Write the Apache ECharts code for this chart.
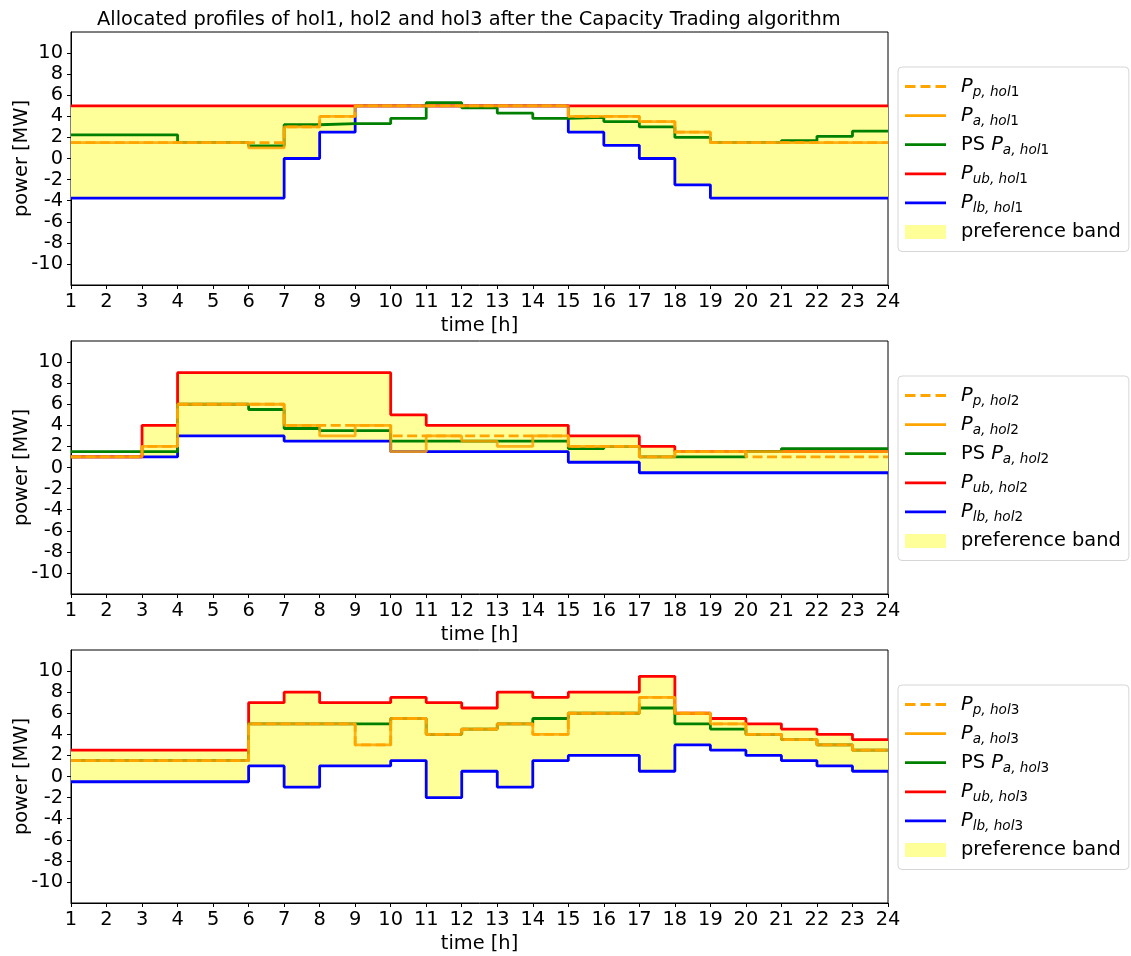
<!DOCTYPE html>
<html>
<head>
<meta charset="utf-8">
<script src="https://cdn.jsdelivr.net/npm/echarts@6/dist/echarts.min.js"></script>
<style>
html,body{margin:0;padding:0;background:#fff;}
#chart{width:1131px;height:956px;}
</style>
</head>
<body>
<div id="chart"></div>
<script>
// ---------- data (value for each hour interval h..h+1, h = 1..23) ----------
const hours = ['1','2','3','4','5','6','7','8','9','10','11','12','13','14','15','16','17','18','19','20','21','22','23','24'];
const yTicks = [-10,-8,-6,-4,-2,0,2,4,6,8,10];

// hol1
const pp1 = [1.5,1.5,1.5,1.5,1.5,1.5,3,4,5,5,5,5,5,5,4,4,3.5,2.5,1.5,1.5,1.5,1.5,1.5];
const pa1 = [1.5,1.5,1.5,1.5,1.5,1.0,3,4,5,5,5,5,5,5,4,4,3.5,2.5,1.5,1.5,1.5,1.5,1.5];
const ps1 = [2.25,2.25,2.25,1.5,1.5,1.2,3.2,3.3,3.3,3.8,5.3,4.8,4.3,3.8,3.9,3.5,3.0,2.0,1.5,1.5,1.7,2.1,2.6];
const ub1 = [5,5,5,5,5,5,5,5,5,5,5,5,5,5,5,5,5,5,5,5,5,5,5];
const lb1 = [-3.75,-3.75,-3.75,-3.75,-3.75,-3.75,0,2.5,5,5,5,5,5,5,2.5,1.25,0,-2.5,-3.75,-3.75,-3.75,-3.75,-3.75];

// hol2
const pp2 = [1,1,2,6,6,6,4,4,4,3,3,3,3,3,2,2,1,1.5,1.5,1,1,1,1];
const pa2 = [1,1,2,6,6,6,4,3,4,1.5,3,2.5,2,3,2,2,1,1.5,1.5,1.5,1.5,1.5,1.5];
const ps2 = [1.5,1.5,1.5,6,6,5.5,3.7,3.5,3.5,2.5,2.5,2.5,2.5,2.5,1.8,2,1,1,1,1.5,1.8,1.8,1.8];
const ub2 = [1,1,4,9,9,9,9,9,9,5,4,4,4,4,3,3,2,1.5,1.5,1.5,1.5,1.5,1.5];
const lb2 = [1,1,1,3,3,3,2.5,2.5,2.5,1.5,1.5,1.5,1.5,1.5,0.5,0.5,-0.5,-0.5,-0.5,-0.5,-0.5,-0.5,-0.5];

// hol3
const pp3 = [1.5,1.5,1.5,1.5,1.5,5,5,5,3,5.5,4,4.5,5,4,6,6,7.5,6,5,4,3.5,3,2.5];
const pa3 = [1.5,1.5,1.5,1.5,1.5,5,5,5,3,5.5,4,4.5,5,4,6,6,7.5,6,5,4,3.5,3,2.5];
const ps3 = [1.5,1.5,1.5,1.5,1.5,5,5,5,5,5.5,4,4.5,5,5.5,6,6,6.5,5,4.5,4,3.5,3,2.5];
const ub3 = [2.5,2.5,2.5,2.5,2.5,7,8,7,7,7.5,7,6.5,8,7.5,8,8,9.5,6,5.5,5,4.5,4,3.5];
const lb3 = [-0.5,-0.5,-0.5,-0.5,-0.5,1,-1,1,1,1.5,-2,0.5,-1,1.5,2,2,0.5,3,2.5,2,1.5,1,0.5];

const panels = [
  {id:'hol1', pp:pp1, pa:pa1, ps:ps1, ub:ub1, lb:lb1},
  {id:'hol2', pp:pp2, pa:pa2, ps:ps2, ub:ub2, lb:lb2},
  {id:'hol3', pp:pp3, pa:pa3, ps:ps3, ub:ub3, lb:lb3}
];

// ---------- layout / style ----------
const FONT = 'DejaVu Sans';
const FS = 19.4;
const gridTops = [32, 341, 650];
const GRID_LEFT = 71, GRID_W = 817, GRID_H = 253;
const C = {orange:'#ffa500', green:'#008000', red:'#ff0000', blue:'#0000ff', band:'#ffff99'};
const LW = 2.8;
const ICON_SOLID = 'path://M0 0H41V2.8H0Z';
const ICON_DASH = 'path://M0 0H10.5V2.8H0Z M15.5 0H25.5V2.8H15.5Z M30.5 0H41V2.8H30.5Z';

// step 'end' needs the last level repeated at hour 24
const ext = a => a.concat([a[a.length-1]]);

const grids = [], xAxes = [], yAxes = [], series = [], legends = [];
const labelMap = {'preference band': '{g| }{t|preference band}'};

panels.forEach((p, i) => {
  grids.push({left: GRID_LEFT, top: gridTops[i], width: GRID_W, height: GRID_H,
    outerBoundsMode:'none', containLabel:false,
    show: true, borderColor: '#000', borderWidth: 1, backgroundColor: '#fff'});
  xAxes.push({type:'category', gridIndex:i, data: hours, boundaryGap:false,
    name:'time [h]', nameLocation:'middle', nameGap:31, nameMoveOverlap:false,
    nameTextStyle:{fontFamily:FONT, fontSize:FS, color:'#000'},
    axisLine:{show:true, onZero:false, lineStyle:{color:'#000', width:1}},
    axisTick:{show:true, inside:false, length:4, interval:0, lineStyle:{color:'#000'}},
    axisLabel:{interval:0, margin:7, fontFamily:FONT, fontSize:FS, color:'#000'},
    splitLine:{show:false}});
  yAxes.push({type:'value', gridIndex:i, min:-12, max:12, interval:2,
    name:'power [MW]', nameLocation:'middle', nameGap:40, nameRotate:90, nameMoveOverlap:false,
    nameTextStyle:{fontFamily:FONT, fontSize:FS, color:'#000'},
    axisLine:{show:true, onZero:false, lineStyle:{color:'#000', width:1}},
    axisTick:{show:true, length:4, customValues: yTicks, lineStyle:{color:'#000'}},
    axisLabel:{customValues: yTicks, margin:8, fontFamily:FONT, fontSize:FS, color:'#000',
      formatter: v => String(v)},
    splitLine:{show:false}});

  const nPp = 'Pp_'+p.id, nPa = 'Pa_'+p.id, nPs = 'PS_'+p.id, nUb = 'Pub_'+p.id, nLb = 'Plb_'+p.id;
  const num = p.id.slice(3);
  labelMap[nPp] = `{g| }{P|P}{s|p, hol}{n|${num}}`;
  labelMap[nPa] = `{g| }{P|P}{s|a, hol}{n|${num}}`;
  labelMap[nPs] = `{g| }{t|PS }{P|P}{s|a, hol}{n|${num}}`;
  labelMap[nUb] = `{g| }{P|P}{s|ub, hol}{n|${num}}`;
  labelMap[nLb] = `{g| }{P|P}{s|lb, hol}{n|${num}}`;

  const bandDiff = p.ub.map((u, k) => u - p.lb[k]);
  const common = {type:'line', xAxisIndex:i, yAxisIndex:i, step:'end', symbol:'none',
    showSymbol:false, silent:true, animation:false};

  series.push(Object.assign({}, common, {name:'_base_'+p.id, data: ext(p.lb),
    stack:'band'+i, stackStrategy:'all', lineStyle:{opacity:0, width:0}}));
  series.push(Object.assign({}, common, {name:'preference band', data: ext(bandDiff),
    stack:'band'+i, stackStrategy:'all', lineStyle:{opacity:0, width:0},
    itemStyle:{color:C.band}, areaStyle:{color:C.band, opacity:1}}));
  series.push(Object.assign({}, common, {name:nLb, data: ext(p.lb),
    itemStyle:{color:C.blue}, lineStyle:{color:C.blue, width:LW}}));
  series.push(Object.assign({}, common, {name:nUb, data: ext(p.ub),
    itemStyle:{color:C.red}, lineStyle:{color:C.red, width:LW}}));
  series.push(Object.assign({}, common, {name:nPs, data: ext(p.ps),
    itemStyle:{color:C.green}, lineStyle:{color:C.green, width:LW}}));
  series.push(Object.assign({}, common, {name:nPp, data: ext(p.pp),
    itemStyle:{color:C.orange}, lineStyle:{color:C.orange, width:LW, type:[10,4.5]}}));
  series.push(Object.assign({}, common, {name:nPa, data: ext(p.pa),
    itemStyle:{color:C.orange}, lineStyle:{color:C.orange, width:LW, opacity:0.85}}));

  legends.push({
    orient:'vertical', left:898, top: gridTops[i] + 35,
    padding:[10, 8, 10, 7], itemGap:6.6, itemWidth:41, itemHeight:14,
    borderColor:'#d6d6d6', borderWidth:1, borderRadius:4, backgroundColor:'#fff',
    selectedMode:false,
    data:[
      {name:nPp, icon:ICON_DASH, itemStyle:{color:C.orange}},
      {name:nPa, icon:ICON_SOLID, itemStyle:{color:C.orange}},
      {name:nPs, icon:ICON_SOLID, itemStyle:{color:C.green}},
      {name:nUb, icon:ICON_SOLID, itemStyle:{color:C.red}},
      {name:nLb, icon:ICON_SOLID, itemStyle:{color:C.blue}},
      {name:'preference band', icon:'rect', itemStyle:{color:C.band}}
    ],
    formatter: name => labelMap[name] || name,
    textStyle:{fontFamily:FONT, fontSize:FS, color:'#000',
      rich:{
        g:{width:10, fontSize:FS, lineHeight:26},
        P:{fontFamily:FONT, fontStyle:'italic', fontSize:FS, lineHeight:26, color:'#000'},
        t:{fontFamily:FONT, fontSize:FS, lineHeight:26, color:'#000'},
        s:{fontFamily:FONT, fontStyle:'italic', fontSize:13.6, lineHeight:17, verticalAlign:'bottom', color:'#000'},
        n:{fontFamily:FONT, fontSize:13.6, lineHeight:17, verticalAlign:'bottom', color:'#000'}
      }}
  });
});

const chart = echarts.init(document.getElementById('chart'), null, {renderer:'canvas'});
chart.setOption({
  backgroundColor:'#fff',
  animation:false,
  title:{text:'Allocated profiles of hol1, hol2 and hol3 after the Capacity Trading algorithm',
    left:92, top:5, textStyle:{fontFamily:FONT, fontSize:FS, fontWeight:'normal', color:'#000'}},
  grid: grids, xAxis: xAxes, yAxis: yAxes, legend: legends, series: series
});
</script>
</body>
</html>
